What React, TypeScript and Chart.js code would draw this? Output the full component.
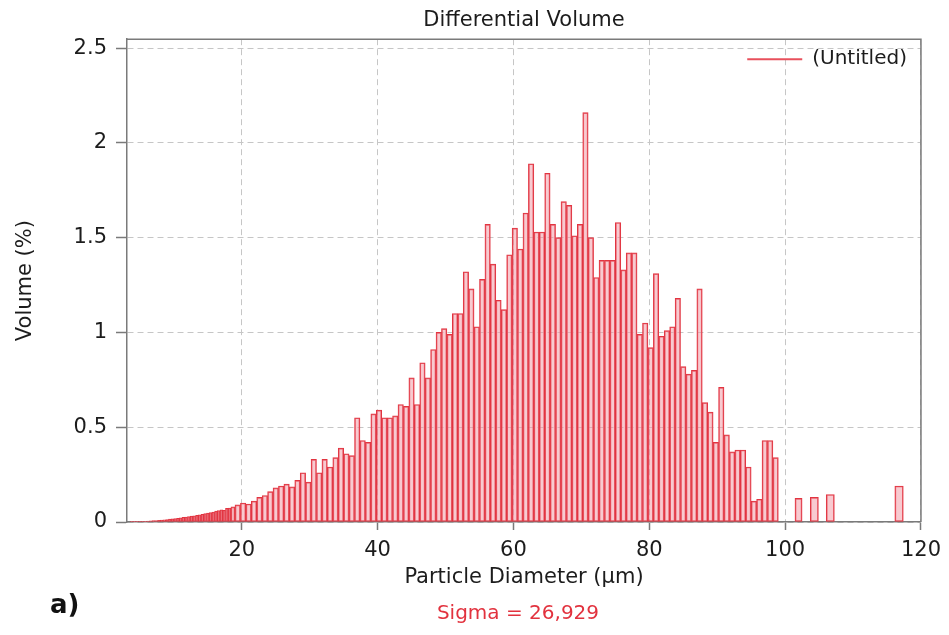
import React, { useEffect, useRef } from 'react';
import { Chart, registerables } from 'chart.js';

Chart.register(...registerables);

const FONT = '"DejaVu Sans", Verdana, sans-serif';
const TEXT_COLOR = '#1c1c1c';

const chartTitle = 'Differential Volume';
const xTitle = 'Particle Diameter (µm)';
const yTitle = 'Volume (%)';
const seriesLabel = '(Untitled)';
const panelLabel = 'a)';
const sigmaText = 'Sigma = 26,929';

// fine bins (small particles)
const fineDiameters = [
  3.8, 4.2, 4.6, 5.0, 5.4, 5.8, 6.2, 6.6, 7.0, 7.4,
  7.8, 8.2, 8.6, 9.0, 9.4, 9.8, 10.2, 10.6, 11.0, 11.4,
  11.8, 12.2, 12.6, 13.0, 13.4, 13.8, 14.2, 14.6, 15.0, 15.4,
  15.8, 16.2, 16.6, 17.0, 17.4, 17.8, 18.2,
];
const fineVolumes = [
  0.001, 0.001, 0.002, 0.003, 0.003, 0.004, 0.005, 0.006, 0.007, 0.008,
  0.009, 0.010, 0.012, 0.013, 0.015, 0.017, 0.018, 0.020, 0.022, 0.024,
  0.026, 0.028, 0.031, 0.033, 0.035, 0.038, 0.041, 0.044, 0.047, 0.050,
  0.052, 0.057, 0.060, 0.064, 0.062, 0.072, 0.074,
];

// main bins
const mainDiameters = [
  18.6, 19.4, 20.2, 21.0, 21.8, 22.6, 23.4, 24.2, 25.0, 25.8,
  26.6, 27.4, 28.2, 29.0, 29.8, 30.6, 31.4, 32.2, 33.0, 33.8,
  34.6, 35.4, 36.2, 37.0, 37.8, 38.6, 39.4, 40.2, 41.0, 41.8,
  42.6, 43.4, 44.2, 45.0, 45.8, 46.6, 47.4, 48.2, 49.0, 49.8,
  50.6, 51.4, 52.2, 53.0, 53.8, 54.6, 55.4, 56.2, 57.0, 57.8,
  58.6, 59.4, 60.2, 61.0, 61.8, 62.6, 63.4, 64.2, 65.0, 65.8,
  66.6, 67.4, 68.2, 69.0, 69.8, 70.6, 71.4, 72.2, 73.0, 73.8,
  74.6, 75.4, 76.2, 77.0, 77.8, 78.6, 79.4, 80.2, 81.0, 81.8,
  82.6, 83.4, 84.2, 85.0, 85.8, 86.6, 87.4, 88.2, 89.0, 89.8,
  90.6, 91.4, 92.2, 93.0, 93.8, 94.6, 95.4, 96.2, 97.0, 97.8,
  98.6,
];
const mainVolumes = [
  0.08, 0.09, 0.10, 0.095, 0.11, 0.13, 0.14, 0.16, 0.18, 0.19,
  0.20, 0.185, 0.22, 0.26, 0.21, 0.33, 0.26, 0.33, 0.29, 0.34,
  0.39, 0.36, 0.35, 0.55, 0.43, 0.42, 0.57, 0.59, 0.55, 0.55,
  0.56, 0.62, 0.61, 0.76, 0.62, 0.84, 0.76, 0.91, 1.00, 1.02,
  0.99, 1.10, 1.10, 1.32, 1.23, 1.03, 1.28, 1.57, 1.36, 1.17,
  1.12, 1.41, 1.55, 1.44, 1.63, 1.89, 1.53, 1.53, 1.84, 1.57,
  1.50, 1.69, 1.67, 1.51, 1.57, 2.16, 1.50, 1.29, 1.38, 1.38,
  1.38, 1.58, 1.33, 1.42, 1.42, 0.99, 1.05, 0.92, 1.31, 0.98,
  1.01, 1.03, 1.18, 0.82, 0.78, 0.80, 1.23, 0.63, 0.58, 0.42,
  0.71, 0.46, 0.37, 0.38, 0.38, 0.29, 0.11, 0.12, 0.43, 0.43,
  0.34,
];

// coarse tail (empty bins are null)
const tailDiameters = [
  99.4, 100.2, 101.0, 101.9, 103.1, 104.3, 105.5, 106.6, 107.9, 109.2,
  110.5, 111.8, 113.0, 114.3, 115.5, 116.8, 118.0,
];
const tailVolumes: (number | null)[] = [
  null, null, null, 0.125, null, 0.13, null, 0.145, null, null,
  null, null, null, null, null, 0.19, null,
];

const xTicks = [20, 40, 60, 80, 100, 120];
const yTicks = [0, 0.5, 1, 1.5, 2, 2.5];

const BAR_BORDER = 'rgb(226, 52, 64)';
const BAR_FILL = 'rgba(242, 150, 162, 0.5)';
const AXIS_COLOR = '#7a7a7a';
const GRID_COLOR = '#c6c6c6';

const framePlugin = {
  id: 'frameTopRight',
  afterDatasetsDraw(chart: any) {
    const { ctx, chartArea: a } = chart;
    ctx.save();
    ctx.strokeStyle = AXIS_COLOR;
    ctx.lineWidth = 1.5;
    ctx.beginPath();
    ctx.moveTo(a.left, a.top);
    ctx.lineTo(a.right, a.top);
    ctx.lineTo(a.right, a.bottom);
    ctx.stroke();
    ctx.restore();
  },
};

const insideLegendPlugin = {
  id: 'insideLegend',
  afterDatasetsDraw(chart: any) {
    const { ctx, chartArea: a } = chart;
    const ds = chart.data.datasets[0];
    ctx.save();
    ctx.font = `20px ${FONT}`;
    const w = ctx.measureText(ds.label).width;
    const textX = a.right - 14 - w;
    const y = a.top + 20;
    ctx.strokeStyle = 'rgb(232, 80, 92)';
    ctx.lineWidth = 2;
    ctx.beginPath();
    ctx.moveTo(textX - 65, y);
    ctx.lineTo(textX - 10, y);
    ctx.stroke();
    ctx.fillStyle = TEXT_COLOR;
    ctx.textBaseline = 'middle';
    ctx.textAlign = 'left';
    ctx.fillText(ds.label, textX, y);
    ctx.restore();
  },
};

export default function App() {
  const canvasRef = useRef<HTMLCanvasElement | null>(null);

  useEffect(() => {
    const diameters = [...fineDiameters, ...mainDiameters, ...tailDiameters];
    const volumes: (number | null)[] = [...fineVolumes, ...mainVolumes, ...tailVolumes];
    const points = diameters.map((d, i) => ({ x: d, y: volumes[i] }));

    const tickFont = { family: FONT, size: 21 };
    const titleFont = { family: FONT, size: 21, weight: 'normal' as const };

    const chart = new Chart(canvasRef.current as HTMLCanvasElement, {
      type: 'bar',
      data: {
        datasets: [
          {
            label: seriesLabel,
            data: points as any,
            backgroundColor: BAR_FILL,
            borderColor: BAR_BORDER,
            borderWidth: 1,
            borderSkipped: false,
            barThickness: 'flex',
            categoryPercentage: 1,
            barPercentage: 1,
          } as any,
        ],
      },
      options: {
        animation: false,
        responsive: false,
        devicePixelRatio: 1,
        layout: { padding: { left: 0, right: 27, top: 0, bottom: 40 } },
        plugins: {
          legend: { display: false },
          tooltip: { enabled: false },
          title: {
            display: true,
            text: chartTitle,
            fullSize: false,
            color: TEXT_COLOR,
            font: titleFont,
            padding: { top: 8, bottom: 6 },
          },
        },
        scales: {
          x: {
            type: 'linear',
            min: 3.1,
            max: 120,
            offset: false,
            afterFit: (s: any) => {
              s.height = 73;
            },
            afterBuildTicks: (s: any) => {
              s.ticks = xTicks.map((v) => ({ value: v }));
            },
            ticks: {
              stepSize: 20,
              includeBounds: false,
              autoSkip: false,
              maxRotation: 0,
              padding: 8,
              color: TEXT_COLOR,
              font: tickFont,
              callback: (v: any) => String(Number(v)),
            },
            grid: {
              offset: false,
              color: GRID_COLOR,
              lineWidth: 1,
              tickColor: AXIS_COLOR,
              tickLength: 8,
              tickWidth: 1.5,
              tickBorderDash: [],
            } as any,
            border: { color: AXIS_COLOR, width: 1.5, dash: [6, 4] },
            title: {
              display: true,
              text: xTitle,
              color: TEXT_COLOR,
              font: titleFont,
              padding: { top: 0, bottom: 5 },
            },
          },
          y: {
            type: 'linear',
            min: 0,
            max: 2.547,
            afterFit: (s: any) => {
              s.width = 127;
            },
            afterBuildTicks: (s: any) => {
              s.ticks = yTicks.map((v) => ({ value: v }));
            },
            ticks: {
              stepSize: 0.5,
              includeBounds: false,
              padding: 9,
              color: TEXT_COLOR,
              font: tickFont,
              callback: (v: any) => String(Number(v)),
            },
            grid: {
              color: GRID_COLOR,
              lineWidth: 1,
              tickColor: AXIS_COLOR,
              tickLength: 11,
              tickWidth: 1.5,
              tickBorderDash: [],
            } as any,
            border: { color: AXIS_COLOR, width: 1.5, dash: [6, 4] },
            title: {
              display: true,
              text: yTitle,
              color: TEXT_COLOR,
              font: titleFont,
              padding: { top: 13, bottom: 0 },
            },
          },
        },
      },
      plugins: [framePlugin, insideLegendPlugin],
    } as any);

    return () => chart.destroy();
  }, []);

  return (
    <div
      style={{
        position: 'absolute',
        left: 0,
        top: 0,
        width: 949,
        height: 635,
        background: '#ffffff',
        overflow: 'hidden',
      }}
    >
      <canvas
        ref={canvasRef}
        width={949}
        height={635}
        style={{ display: 'block', width: 949, height: 635 }}
      />
      <div
        style={{
          position: 'absolute',
          left: 50,
          top: 589,
          fontFamily: FONT,
          fontWeight: 'bold',
          fontSize: 26,
          lineHeight: '30px',
          color: '#111',
        }}
      >
        {panelLabel}
      </div>
      <div
        style={{
          position: 'absolute',
          left: 318,
          width: 400,
          top: 599,
          textAlign: 'center',
          fontFamily: FONT,
          fontSize: 20,
          lineHeight: '26px',
          color: 'rgb(226, 50, 62)',
        }}
      >
        {sigmaText}
      </div>
    </div>
  );
}
